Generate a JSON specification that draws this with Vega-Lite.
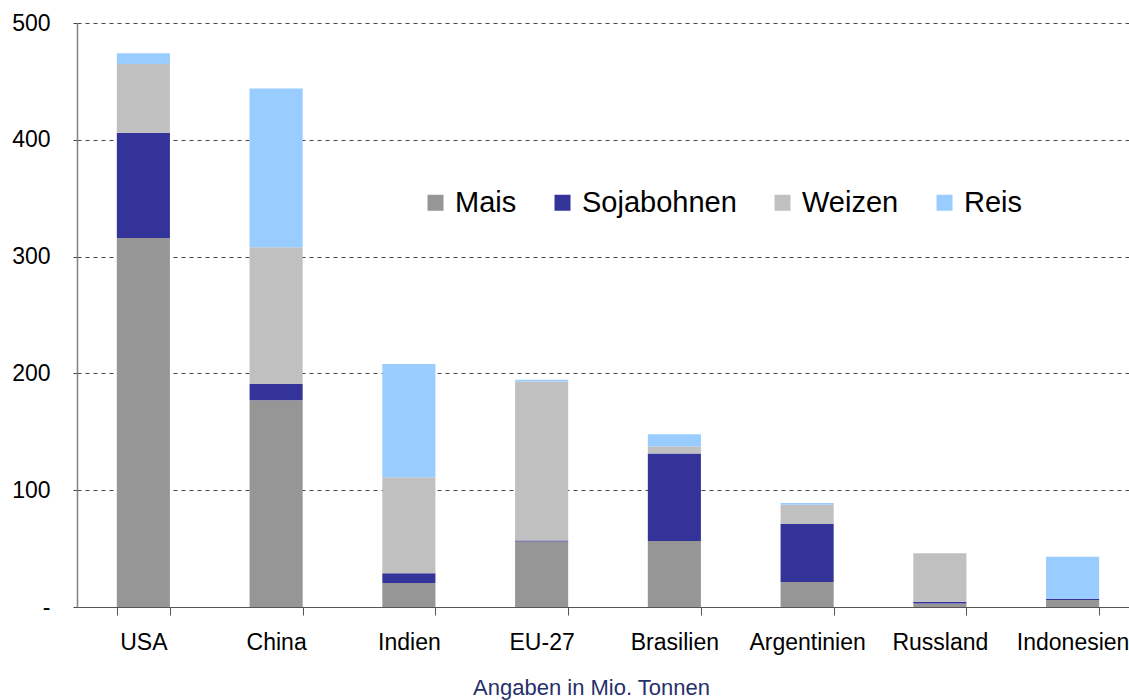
{
  "$schema": "https://vega.github.io/schema/vega-lite/v6.json",
  "width": 1052,
  "height": 584,
  "autosize": {"type": "none"},
  "padding": {"left": 77, "top": 23, "right": 0, "bottom": 93},
  "background": "white",
  "config": {
    "font": "Liberation Sans",
    "view": {"stroke": null}
  },
  "data": {
    "values": [
      {"Land": "USA", "Frucht": "Mais", "Menge": 316},
      {"Land": "USA", "Frucht": "Sojabohnen", "Menge": 90},
      {"Land": "USA", "Frucht": "Weizen", "Menge": 59},
      {"Land": "USA", "Frucht": "Reis", "Menge": 9},
      {"Land": "China", "Frucht": "Mais", "Menge": 177},
      {"Land": "China", "Frucht": "Sojabohnen", "Menge": 14},
      {"Land": "China", "Frucht": "Weizen", "Menge": 117},
      {"Land": "China", "Frucht": "Reis", "Menge": 136},
      {"Land": "Indien", "Frucht": "Mais", "Menge": 20.5},
      {"Land": "Indien", "Frucht": "Sojabohnen", "Menge": 8.5},
      {"Land": "Indien", "Frucht": "Weizen", "Menge": 82},
      {"Land": "Indien", "Frucht": "Reis", "Menge": 97},
      {"Land": "EU-27", "Frucht": "Mais", "Menge": 56},
      {"Land": "EU-27", "Frucht": "Sojabohnen", "Menge": 1},
      {"Land": "EU-27", "Frucht": "Weizen", "Menge": 136},
      {"Land": "EU-27", "Frucht": "Reis", "Menge": 1.5},
      {"Land": "Brasilien", "Frucht": "Mais", "Menge": 56.5},
      {"Land": "Brasilien", "Frucht": "Sojabohnen", "Menge": 75},
      {"Land": "Brasilien", "Frucht": "Weizen", "Menge": 6},
      {"Land": "Brasilien", "Frucht": "Reis", "Menge": 10.5},
      {"Land": "Argentinien", "Frucht": "Mais", "Menge": 21.5},
      {"Land": "Argentinien", "Frucht": "Sojabohnen", "Menge": 49.5},
      {"Land": "Argentinien", "Frucht": "Weizen", "Menge": 16.5},
      {"Land": "Argentinien", "Frucht": "Reis", "Menge": 1.5},
      {"Land": "Russland", "Frucht": "Mais", "Menge": 3},
      {"Land": "Russland", "Frucht": "Sojabohnen", "Menge": 1.5},
      {"Land": "Russland", "Frucht": "Weizen", "Menge": 41.5},
      {"Land": "Russland", "Frucht": "Reis", "Menge": 0},
      {"Land": "Indonesien", "Frucht": "Mais", "Menge": 6},
      {"Land": "Indonesien", "Frucht": "Sojabohnen", "Menge": 1},
      {"Land": "Indonesien", "Frucht": "Weizen", "Menge": 0},
      {"Land": "Indonesien", "Frucht": "Reis", "Menge": 36}
    ]
  },
  "transform": [
    {"calculate": "indexof(['Mais', 'Sojabohnen', 'Weizen', 'Reis'], datum.Frucht)", "as": "Stapelfolge"}
  ],
  "mark": {"type": "bar", "strokeWidth": 0},
  "encoding": {
    "x": {
      "field": "Land",
      "type": "nominal",
      "sort": null,
      "scale": {"range": [0, 1062], "paddingInner": 0.6, "paddingOuter": 0.3},
      "axis": {
        "labelAngle": 0,
        "tickBand": "extent",
        "tickSize": 8,
        "tickColor": "#555555",
        "domainColor": "#555555",
        "labelFontSize": 23,
        "labelColor": "#000000",
        "labelPadding": 16,
        "title": "Angaben in Mio. Tonnen",
        "titleColor": "#27306b",
        "titleFontSize": 22,
        "titleFontWeight": "normal",
        "titleAnchor": null,
        "titleAlign": "center",
        "titleBaseline": "alphabetic",
        "titleX": 514,
        "titleY": 87
      }
    },
    "y": {
      "field": "Menge",
      "type": "quantitative",
      "stack": "zero",
      "scale": {"domain": [0, 500], "nice": false},
      "axis": {
        "values": [0, 100, 200, 300, 400, 500],
        "grid": true,
        "gridDash": [4, 4],
        "gridColor": "#444444",
        "tickSize": 8,
        "tickDash": [4, 4],
        "tickColor": "#444444",
        "domainColor": "#808080",
        "domainWidth": 1.5,
        "labelFontSize": 23,
        "labelColor": "#000000",
        "labelPadding": 19,
        "title": null,
        "labelExpr": "datum.value == 0 ? '-' : datum.label"
      }
    },
    "color": {
      "field": "Frucht",
      "type": "nominal",
      "sort": ["Mais", "Sojabohnen", "Weizen", "Reis"],
      "scale": {
        "domain": ["Mais", "Sojabohnen", "Weizen", "Reis"],
        "range": ["#969696", "#333399", "#c0c0c0", "#99ccff"]
      },
      "legend": {
        "orient": "none",
        "legendX": 344,
        "legendY": 165,
        "direction": "horizontal",
        "title": null,
        "symbolType": "square",
        "symbolSize": 256,
        "symbolStrokeWidth": 0,
        "labelFontSize": 29,
        "labelColor": "#000000",
        "labelOffset": 5,
        "columnPadding": 31
      }
    },
    "order": {"field": "Stapelfolge", "type": "quantitative", "sort": "ascending"}
  }
}
